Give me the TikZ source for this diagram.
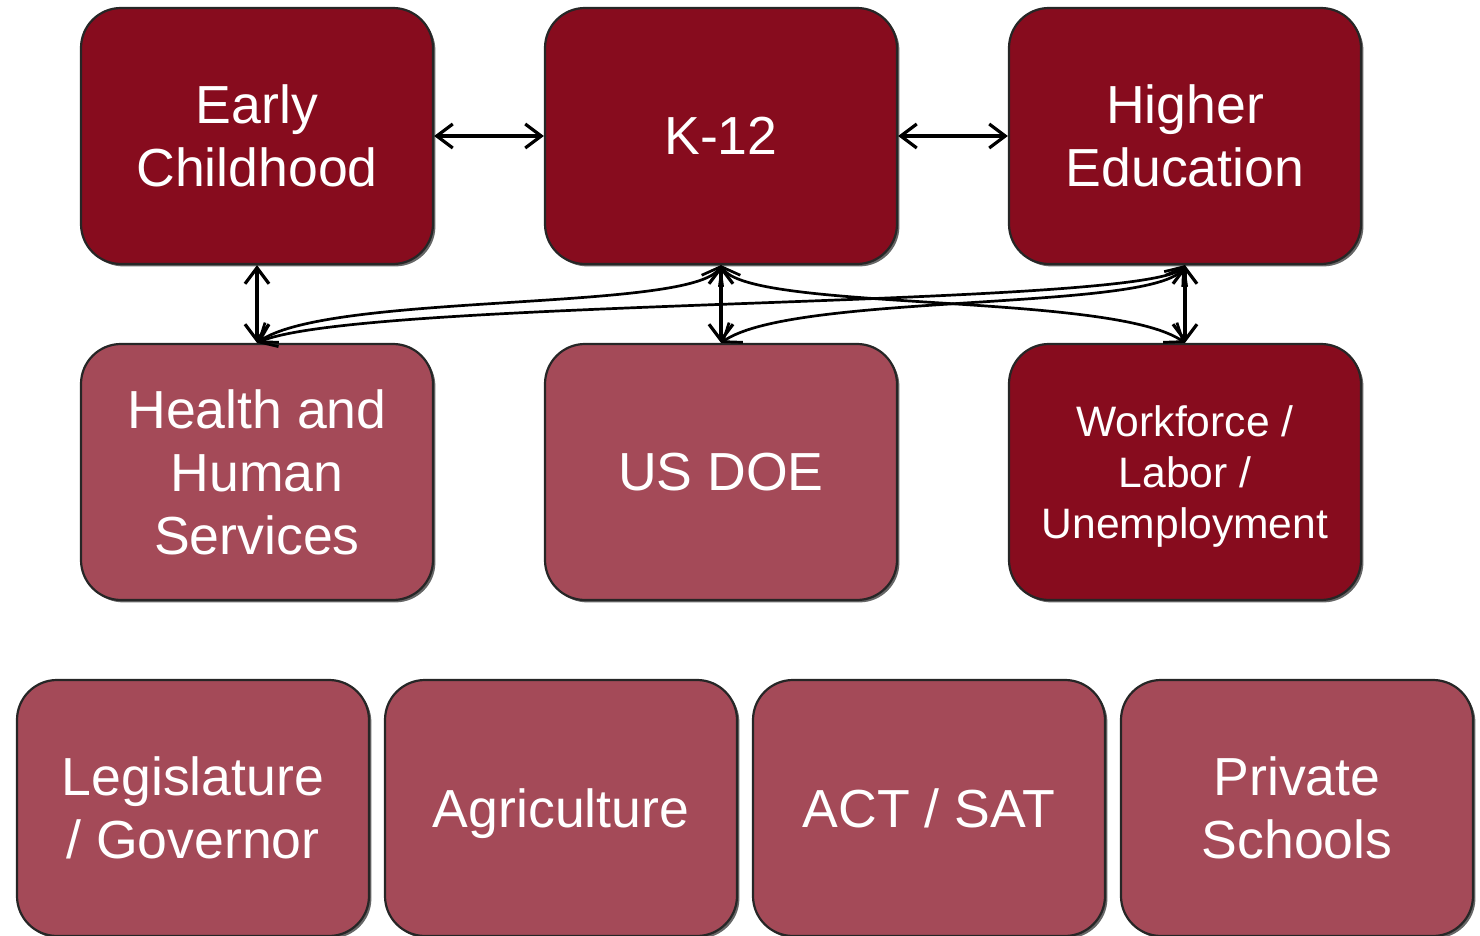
\documentclass[tikz,border=0pt]{standalone}
\usepackage{fontspec}
\setmainfont{Liberation Sans}
\usetikzlibrary{arrows.meta,shadows}
\definecolor{darkred}{RGB}{135,12,30}
\definecolor{lightred}{RGB}{164,74,88}
\tikzset{
  box/.style={draw=black!85, line width=1.1pt, rounded corners=20pt,
    minimum width=176pt, minimum height=128pt, text=white, align=center,
    font=\fontsize{26.8}{31.5}\selectfont, inner sep=0pt,
    drop shadow={shadow xshift=1.2pt, shadow yshift=-1.2pt, opacity=0.6, fill=black}},
  darkbox/.style={box, fill=darkred},
  lightbox/.style={box, fill=lightred},
  link/.style={line width=1.6pt, {Straight Barb[length=8pt,width=12pt]}-{Straight Barb[length=8pt,width=12pt]}},
  curvelink/.style={line width=1.35pt, {Straight Barb[length=8pt,width=12pt]}-{Straight Barb[length=8pt,width=12pt]}}
}
\begin{document}
\begin{tikzpicture}[x=0.5pt,y=-0.5pt]
\useasboundingbox (0,0) rectangle (1480,936);
% row 1
\node[darkbox] (ec) at (257,136) {Early\\Childhood};
\node[darkbox] (k12) at (721,136) {K-12};
\node[darkbox] (he) at (1185,136) {Higher\\Education};
% row 2
\node[lightbox] (hhs) at (257,472) {Health and\\Human\\Services};
\node[lightbox] (doe) at (721,472) {US DOE};
\node[darkbox, font=\fontsize{21.3}{25.5}\selectfont] (wf) at (1185,472) {\rule{0pt}{19.8pt}Workforce /\\Labor /\\Unemployment};
% row 3
\node[lightbox] (leg) at (193,808) {Legislature\\/ Governor};
\node[lightbox] (agr) at (561,808) {\raisebox{0pt}[\height][0pt]{Agriculture}};
\node[lightbox] (act) at (929,808) {ACT / SAT};
\node[lightbox] (priv) at (1297,808) {Private\\Schools};
% connectors
\draw[link] (ec.east) -- (k12.west);
\draw[link] (k12.east) -- (he.west);
\draw[link] (ec.south) -- (hhs.north);
\draw[link] (k12.south) -- (doe.north);
\draw[link] (he.south) -- (wf.north);
\draw[curvelink] (k12.south) .. controls (695,312) and (330,292) .. (hhs.north);
\draw[curvelink] (he.south) .. controls (1150,308) and (360,298) .. (hhs.north);
\draw[curvelink] (k12.south) .. controls (747,312) and (1112,292) .. (wf.north);
\draw[curvelink] (he.south) .. controls (1159,312) and (794,292) .. (doe.north);
\end{tikzpicture}
\end{document}
